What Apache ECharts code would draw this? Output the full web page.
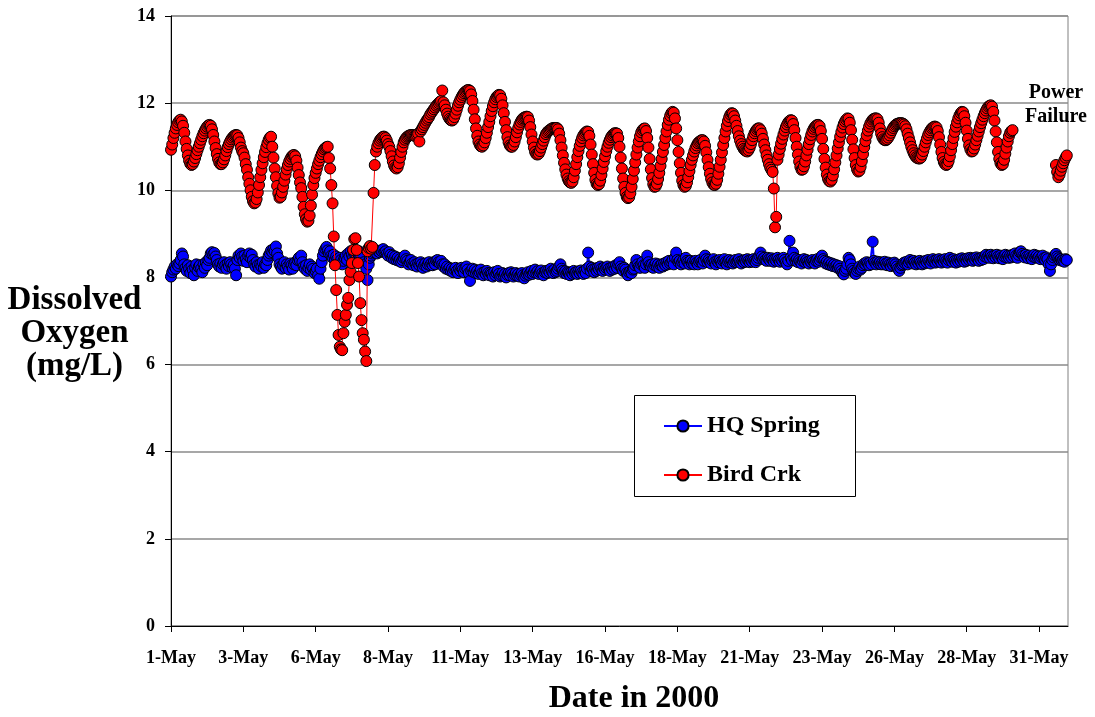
<!DOCTYPE html>
<html>
<head>
<meta charset="utf-8">
<script src="https://cdn.jsdelivr.net/npm/echarts@6/dist/echarts.min.js"></script>
<style>html,body{margin:0;padding:0;background:#fff}#c{width:1095px;height:717px}</style>
</head>
<body>
<div id="c"></div>
<script>
// Day labels for the x axis (hourly readings, 24 per day)
const dayLabels = ['1-May','2-May','3-May','4-May','5-May','6-May','7-May','8-May','9-May','10-May',
  '11-May','12-May','13-May','14-May','15-May','16-May','17-May','18-May','19-May','20-May',
  '21-May','22-May','23-May','24-May','25-May','26-May','27-May','28-May','29-May','30-May','31-May'];
const hoursPerDay = 24;
const xTickHours = [0, 60, 120, 180, 240, 300, 360, 420, 480, 540, 600, 660, 720];
const yTicks = [0, 2, 4, 6, 8, 10, 12, 14];

// Dissolved oxygen, HQ Spring (mg/L), hourly, one day per line
const hqSpring = [
8.02,8.12,8.18,8.25,8.2,8.3,8.26,8.32,8.4,8.55,8.48,8.3,8.22,8.15,8.28,8.2,8.1,8.25,8.18,8.05,8.22,8.3,8.15,8.24,
8.28,8.2,8.12,8.3,8.22,8.35,8.28,8.4,8.45,8.55,8.58,8.52,8.56,8.48,8.4,8.3,8.25,8.32,8.22,8.3,8.35,8.28,8.2,8.32,
8.26,8.35,8.3,8.22,8.28,8.2,8.05,8.4,8.5,8.45,8.55,8.48,8.38,8.5,8.42,8.35,8.5,8.55,8.45,8.52,8.4,8.3,8.25,8.35,
8.28,8.2,8.3,8.25,8.35,8.22,8.3,8.28,8.4,8.5,8.55,8.62,8.58,8.65,8.6,8.71,8.55,8.45,8.3,8.25,8.2,8.28,8.35,8.22,
8.3,8.25,8.18,8.32,8.28,8.2,8.3,8.35,8.28,8.4,8.45,8.38,8.5,8.35,8.25,8.2,8.28,8.15,8.22,8.3,8.18,8.25,8.2,8.1,
8.15,8.2,8.05,7.97,8.2,8.35,8.5,8.6,8.65,8.7,8.62,8.55,8.6,8.5,8.45,8.52,8.4,8.48,8.42,8.35,8.45,8.4,8.3,8.38,
8.45,8.5,8.4,8.55,8.48,8.6,8.52,8.45,8.58,8.5,8.42,8.55,8.6,8.5,8.4,8.45,8.35,8.3,8.2,7.94,8.3,8.45,8.5,8.55,
8.58,8.6,8.62,8.55,8.6,8.58,8.62,8.6,8.65,8.58,8.6,8.55,8.5,8.58,8.52,8.45,8.5,8.42,8.48,8.4,8.45,8.38,8.42,8.35,
8.4,8.45,8.5,8.42,8.38,8.3,8.35,8.4,8.32,8.28,8.35,8.3,8.25,8.32,8.28,8.35,8.3,8.22,8.28,8.32,8.25,8.3,8.35,8.28,
8.32,8.28,8.35,8.3,8.38,8.4,8.35,8.32,8.38,8.3,8.25,8.3,8.2,8.25,8.18,8.22,8.15,8.2,8.12,8.18,8.22,8.15,8.1,8.2,
8.15,8.22,8.18,8.12,8.2,8.25,8.18,8.1,7.92,8.15,8.2,8.12,8.18,8.1,8.15,8.08,8.12,8.18,8.1,8.05,8.12,8.08,8.15,8.1,
8.05,8.1,8.08,8.02,8.12,8.05,8.1,8.15,8.08,8.02,8.05,8.1,8.04,8.08,8.0,8.06,8.1,8.05,8.12,8.08,8.02,8.06,8.1,8.04,
8.08,8.02,8.06,8.1,8.05,7.98,8.04,8.08,8.12,8.06,8.1,8.15,8.08,8.12,8.18,8.1,8.14,8.08,8.12,8.16,8.1,8.05,8.12,8.15,
8.1,8.16,8.12,8.2,8.14,8.1,8.18,8.12,8.15,8.2,8.25,8.3,8.2,8.15,8.1,8.14,8.08,8.12,8.1,8.05,8.12,8.08,8.15,8.1,
8.12,8.08,8.14,8.1,8.16,8.12,8.08,8.15,8.1,8.2,8.57,8.25,8.15,8.22,8.18,8.12,8.2,8.15,8.22,8.18,8.25,8.2,8.15,8.22,
8.18,8.22,8.25,8.2,8.15,8.22,8.18,8.25,8.2,8.28,8.22,8.3,8.35,8.25,8.2,8.15,8.22,8.18,8.1,8.05,8.12,8.15,8.1,8.18,
8.2,8.28,8.4,8.3,8.25,8.22,8.3,8.35,8.28,8.22,8.3,8.5,8.35,8.28,8.25,8.3,8.22,8.28,8.32,8.25,8.3,8.22,8.28,8.3,
8.25,8.32,8.28,8.35,8.3,8.38,8.32,8.35,8.4,8.3,8.45,8.57,8.4,8.35,8.38,8.3,8.35,8.4,8.32,8.45,8.38,8.35,8.3,8.38,
8.32,8.36,8.3,8.38,8.34,8.3,8.36,8.4,8.35,8.32,8.38,8.5,8.42,8.35,8.4,8.36,8.32,8.38,8.42,8.35,8.3,8.38,8.35,8.4,
8.36,8.32,8.38,8.42,8.35,8.3,8.36,8.4,8.34,8.38,8.32,8.36,8.4,8.35,8.38,8.42,8.36,8.32,8.38,8.35,8.4,8.36,8.42,8.38,
8.35,8.4,8.36,8.42,8.38,8.35,8.4,8.45,8.5,8.57,8.48,8.42,8.45,8.4,8.38,8.45,8.42,8.38,8.44,8.4,8.36,8.42,8.38,8.45,
8.4,8.36,8.42,8.38,8.45,8.4,8.35,8.3,8.38,8.84,8.45,8.4,8.57,8.45,8.38,8.42,8.35,8.4,8.36,8.32,8.38,8.42,8.35,8.4,
8.36,8.32,8.38,8.35,8.4,8.36,8.32,8.38,8.42,8.36,8.4,8.45,8.5,8.42,8.38,8.32,8.36,8.3,8.34,8.28,8.32,8.26,8.3,8.25,
8.28,8.22,8.26,8.2,8.15,8.1,8.07,8.15,8.2,8.3,8.45,8.4,8.3,8.2,8.15,8.1,8.08,8.15,8.2,8.25,8.18,8.22,8.28,8.32,
8.3,8.35,8.32,8.28,8.34,8.3,8.82,8.38,8.34,8.3,8.36,8.32,8.35,8.3,8.34,8.3,8.36,8.32,8.28,8.34,8.3,8.26,8.32,8.28,
8.34,8.3,8.25,8.2,8.15,8.22,8.28,8.3,8.34,8.32,8.36,8.3,8.35,8.4,8.36,8.32,8.38,8.34,8.3,8.36,8.32,8.38,8.34,8.3,
8.36,8.32,8.38,8.34,8.4,8.36,8.32,8.38,8.42,8.38,8.34,8.4,8.36,8.42,8.38,8.34,8.4,8.36,8.42,8.38,8.34,8.4,8.45,8.4,
8.36,8.42,8.38,8.34,8.4,8.36,8.42,8.38,8.44,8.4,8.36,8.42,8.38,8.44,8.4,8.45,8.42,8.38,8.44,8.4,8.46,8.42,8.38,8.44,
8.4,8.46,8.42,8.48,8.52,8.46,8.5,8.45,8.52,8.48,8.44,8.5,8.46,8.52,8.48,8.44,8.5,8.46,8.42,8.48,8.52,8.46,8.5,8.45,
8.5,8.46,8.52,8.48,8.55,8.5,8.45,8.52,8.58,8.6,8.54,8.5,8.46,8.52,8.48,8.44,8.5,8.46,8.42,8.48,8.52,8.46,8.5,8.45,
8.48,8.42,8.46,8.5,8.44,8.4,8.46,8.42,8.3,8.15,8.3,8.4,8.46,8.5,8.54,8.48,8.44,8.4,8.42,8.38,8.4,8.36,8.42,8.4
];

// Dissolved oxygen, Bird Crk (mg/L), hourly, one day per line; null = power failure
const birdCrk = [
10.93,11.05,11.2,11.32,11.42,11.5,11.56,11.6,11.62,11.58,11.48,11.32,11.12,10.95,10.8,10.68,10.61,10.58,10.6,10.66,10.74,10.83,10.92,11.0,
11.08,11.16,11.24,11.31,11.37,11.42,11.46,11.49,11.5,11.48,11.4,11.27,11.12,10.97,10.83,10.72,10.64,10.6,10.6,10.64,10.71,10.8,10.9,10.99,
11.06,11.12,11.17,11.21,11.24,11.26,11.27,11.26,11.2,11.1,10.98,10.9,10.85,10.75,10.6,10.47,10.3,10.15,10.0,9.85,9.75,9.7,9.72,9.8,
9.95,10.12,10.3,10.47,10.62,10.76,10.88,10.99,11.08,11.16,11.21,11.23,11.0,10.75,10.5,10.3,10.1,9.93,9.83,9.85,9.95,10.08,10.22,10.36,
10.48,10.58,10.66,10.72,10.77,10.8,10.81,10.78,10.68,10.52,10.35,10.18,10.05,9.85,9.62,9.45,9.34,9.28,9.3,9.42,9.65,9.9,10.12,10.28,
10.4,10.5,10.6,10.68,10.76,10.83,10.89,10.94,10.97,10.99,11.0,10.74,10.5,10.12,9.7,8.94,8.28,7.71,7.14,6.68,6.41,6.35,6.33,6.72,
6.98,7.14,7.37,7.53,7.94,8.13,8.33,8.63,8.88,8.9,8.63,8.33,8.02,7.41,7.02,6.72,6.57,6.3,6.08,8.6,8.68,8.72,8.66,8.7,
9.94,10.58,10.89,11.0,11.08,11.14,11.18,11.21,11.23,11.23,11.2,11.14,11.06,11.0,10.9,10.78,10.66,10.57,10.52,10.5,10.53,10.62,10.75,10.88,
11.0,11.1,11.16,11.2,11.23,11.25,11.26,11.27,11.27,11.26,11.25,11.25,11.27,11.3,11.12,11.35,11.4,11.45,11.5,11.55,11.6,11.64,11.68,11.74,
11.78,11.82,11.86,11.9,11.94,11.97,12.0,12.03,12.05,12.29,12.02,11.95,11.85,11.76,11.69,11.64,11.61,11.6,11.62,11.68,11.76,11.85,11.94,12.02,
12.08,12.14,12.19,12.23,12.26,12.28,12.3,12.3,12.28,12.2,12.05,11.85,11.63,11.42,11.25,11.12,11.05,11.01,11.0,11.03,11.1,11.2,11.32,11.45,
11.57,11.7,11.82,11.93,12.02,12.09,12.14,12.17,12.19,12.18,12.1,11.95,11.77,11.57,11.38,11.22,11.1,11.03,11.0,11.0,11.04,11.12,11.22,11.33,
11.43,11.51,11.57,11.62,11.65,11.67,11.68,11.69,11.68,11.6,11.45,11.28,11.12,10.98,10.88,10.83,10.82,10.84,10.9,10.98,11.06,11.14,11.22,11.29,
11.33,11.36,11.38,11.4,11.42,11.43,11.43,11.43,11.43,11.4,11.3,11.15,10.98,10.8,10.63,10.48,10.36,10.27,10.21,10.18,10.17,10.2,10.3,10.45,
10.6,10.76,10.9,11.02,11.12,11.2,11.26,11.3,11.33,11.35,11.34,11.25,11.05,10.82,10.6,10.4,10.24,10.15,10.12,10.14,10.22,10.35,10.5,10.65,
10.78,10.9,11.0,11.09,11.16,11.22,11.26,11.29,11.31,11.31,11.3,11.2,11.0,10.75,10.5,10.27,10.08,9.94,9.85,9.82,9.84,9.93,10.08,10.26,
10.45,10.64,10.82,10.98,11.12,11.24,11.33,11.38,11.41,11.42,11.36,11.2,10.98,10.72,10.48,10.28,10.14,10.08,10.09,10.15,10.26,10.4,10.56,10.72,
10.88,11.04,11.2,11.35,11.5,11.62,11.71,11.77,11.8,11.78,11.65,11.42,11.15,10.88,10.62,10.4,10.22,10.12,10.08,10.1,10.18,10.3,10.44,10.58,
10.7,10.8,10.89,10.97,11.03,11.08,11.11,11.13,11.15,11.15,11.12,11.02,10.87,10.7,10.53,10.38,10.26,10.18,10.13,10.12,10.15,10.24,10.38,10.54,
10.7,10.87,11.04,11.2,11.35,11.48,11.59,11.68,11.74,11.77,11.76,11.7,11.6,11.48,11.36,11.24,11.14,11.06,11.0,10.95,10.92,10.9,10.89,10.92,
10.98,11.06,11.15,11.24,11.31,11.36,11.4,11.42,11.42,11.38,11.3,11.18,11.05,10.92,10.8,10.7,10.6,10.52,10.47,10.42,10.04,9.15,9.39,10.7,
10.82,10.95,11.07,11.18,11.28,11.37,11.45,11.51,11.56,11.59,11.61,11.6,11.52,11.38,11.2,11.0,10.82,10.66,10.54,10.47,10.48,10.55,10.66,10.8,
10.93,11.06,11.17,11.27,11.35,11.41,11.45,11.48,11.5,11.5,11.47,11.36,11.18,10.95,10.72,10.52,10.36,10.26,10.21,10.2,10.24,10.34,10.48,10.64,
10.8,10.96,11.1,11.23,11.34,11.44,11.52,11.58,11.62,11.65,11.64,11.55,11.38,11.16,10.94,10.74,10.58,10.48,10.43,10.45,10.54,10.67,10.83,10.99,
11.13,11.26,11.37,11.46,11.53,11.58,11.62,11.64,11.65,11.65,11.63,11.55,11.42,11.3,11.22,11.17,11.15,11.15,11.17,11.21,11.26,11.32,11.38,11.43,
11.47,11.5,11.52,11.53,11.54,11.54,11.54,11.53,11.51,11.47,11.4,11.3,11.2,11.1,11.0,10.92,10.85,10.8,10.76,10.74,10.73,10.73,10.75,10.82,
10.9,11.0,11.1,11.19,11.27,11.33,11.38,11.42,11.44,11.46,11.46,11.44,11.36,11.22,11.05,10.88,10.74,10.65,10.6,10.58,10.6,10.67,10.78,10.92,
11.06,11.2,11.34,11.46,11.56,11.65,11.72,11.77,11.8,11.79,11.7,11.55,11.37,11.18,11.03,10.94,10.89,10.9,10.96,11.05,11.15,11.25,11.35,11.45,
11.54,11.62,11.7,11.77,11.83,11.88,11.92,11.94,11.95,11.92,11.8,11.6,11.35,11.1,10.88,10.72,10.62,10.58,10.6,10.7,10.84,10.98,11.12,11.24,
11.32,11.36,11.38,null,null,null,null,null,null,null,null,null,null,null,null,null,null,null,null,null,null,null,null,null,
null,null,null,null,null,null,null,null,null,null,null,null,null,null,10.58,10.42,10.3,10.36,10.45,10.54,10.62,10.69,10.75,10.8
];

const FONT = '"Liberation Serif", "Times New Roman", serif';
const toPoints = arr => arr.map((v, i) => [i, v == null ? '-' : v]);
const totalHours = dayLabels.length * hoursPerDay;

const chart = echarts.init(document.getElementById('c'), null, {renderer: 'canvas'});
chart.setOption({
  animation: false,
  backgroundColor: '#ffffff',
  grid: {left: 171, right: 27, top: 16, bottom: 91, show: true, borderColor: '#808080', borderWidth: 1, backgroundColor: 'transparent'},
  xAxis: {
    type: 'value', min: 0, max: totalHours, interval: 60,
    axisLine: {show: true, lineStyle: {color: '#000', width: 1}},
    axisTick: {show: true, length: 6, lineStyle: {color: '#000'}, customValues: xTickHours},
    axisLabel: {
      customValues: xTickHours, margin: 23, color: '#000', fontFamily: FONT, fontWeight: 'bold', fontSize: 18,
      formatter: v => dayLabels[Math.floor(v / hoursPerDay)] || ''
    },
    splitLine: {show: false}
  },
  yAxis: {
    type: 'value', min: yTicks[0], max: yTicks[yTicks.length - 1], interval: 2,
    axisLine: {show: true, lineStyle: {color: '#000', width: 1}},
    axisTick: {show: true, length: 6, lineStyle: {color: '#000'}},
    axisLabel: {margin: 16, color: '#000', fontFamily: FONT, fontWeight: 'bold', fontSize: 18},
    splitLine: {show: true, lineStyle: {color: '#8a8a8a', width: 1.5}}
  },
  legend: {
    show: true, orient: 'vertical', left: 663, top: 413, padding: 0,
    itemWidth: 38, itemHeight: 14, itemGap: 23,
    data: ['HQ Spring', 'Bird Crk'],
    textStyle: {color: '#000', fontFamily: FONT, fontWeight: 'bold', fontSize: 24, lineHeight: 26},
    z: 10
  },
  graphic: [
    {type: 'rect', z: 5, shape: {x: 634.5, y: 395.5, width: 221, height: 101},
     style: {fill: '#fff', stroke: '#000', lineWidth: 1}},
    {type: 'text', z: 5, style: {text: 'Dissolved\nOxygen\n(mg/L)', x: 74.5, y: 333, align: 'center', verticalAlign: 'middle',
      fontFamily: FONT, fontWeight: 'bold', fontSize: 33, lineHeight: 33, fill: '#000'}},
    {type: 'text', z: 5, style: {text: 'Date in 2000', x: 634, y: 699, align: 'center', verticalAlign: 'middle',
      fontFamily: FONT, fontWeight: 'bold', fontSize: 32, fill: '#000'}},
    {type: 'text', z: 5, style: {text: 'Power\nFailure', x: 1056, y: 105, align: 'center', verticalAlign: 'middle',
      fontFamily: FONT, fontWeight: 'bold', fontSize: 20, lineHeight: 24, fill: '#000'}}
  ],
  series: [
    {
      name: 'HQ Spring', type: 'line', data: toPoints(hqSpring),
      symbol: 'circle', symbolSize: 11, showSymbol: true,
      itemStyle: {color: '#0000ff', borderColor: '#000', borderWidth: 1},
      lineStyle: {color: '#0000ff', width: 2},
      emphasis: {disabled: true}, z: 2
    },
    {
      name: 'Bird Crk', type: 'line', data: toPoints(birdCrk), connectNulls: false,
      symbol: 'circle', symbolSize: 11, showSymbol: true,
      itemStyle: {color: '#ff0000', borderColor: '#000', borderWidth: 1},
      lineStyle: {color: '#ff0000', width: 1},
      emphasis: {disabled: true}, z: 3
    }
  ]
});
</script>
</body>
</html>
